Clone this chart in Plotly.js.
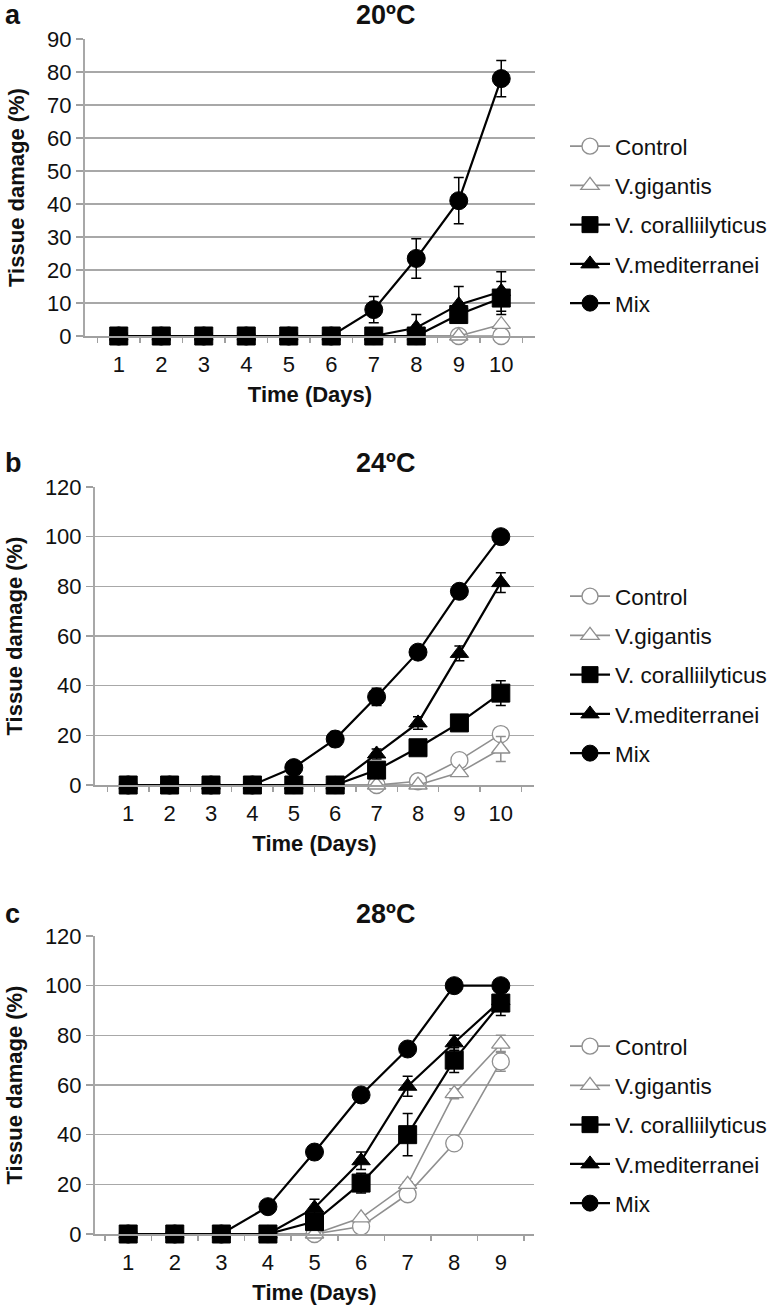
<!DOCTYPE html>
<html>
<head>
<meta charset="utf-8">
<script src="https://cdn.plot.ly/plotly-3.0.1.min.js"></script>
<style>html,body{margin:0;padding:0;background:#fff;}#chart{width:779px;height:1305px;}</style>
</head>
<body>
<div id="chart"></div>
<script>
// ---------- data ----------
const seriesNames = ['Control', 'V.gigantis', 'V. coralliilyticus', 'V.mediterranei', 'Mix'];
const panelTitles = ['20ºC', '24ºC', '28ºC'];
const panelLetters = ['a', 'b', 'c'];
const xTitle = 'Time (Days)';
const yTitle = 'Tissue damage (%)';

const daysA = ['1','2','3','4','5','6','7','8','9','10'];
const daysB = ['1','2','3','4','5','6','7','8','9','10'];
const daysC = ['1','2','3','4','5','6','7','8','9'];

// Panel a: 20ºC
const a_control = [0,0,0,0,0,0,0,0,0,0];
const a_gigantis = [0,0,0,0,0,0,0,0,0,3.5];
const a_coral = [0,0,0,0,0,0,0,0,6.5,11.5];
const a_med = [0,0,0,0,0,0,0,2.5,9.5,13.5];
const a_mix = [0,0,0,0,0,0,8,23.5,41,78];
const a_control_err = [0,0,0,0,0,0,0,0,0,0];
const a_gigantis_err = [0,0,0,0,0,0,0,0,0,0];
const a_coral_err = [0,0,0,0,0,0,0,0,1.5,5];
const a_med_err = [0,0,0,0,0,0,0,4,5.5,6];
const a_mix_err = [0,0,0,0,0,0,4,6,7,5.5];

// Panel b: 24ºC
const b_control = [0,0,0,0,0,0,0,1.5,10,20.5];
const b_gigantis = [0,0,0,0,0,0,0,0,5,14.5];
const b_coral = [0,0,0,0,0,0,6,15,25,37];
const b_med = [0,0,0,0,0,0,12.5,25,53,81.5];
const b_mix = [0,0,0,0,7,18.5,35.5,53.5,78,100];
const b_control_err = [0,0,0,0,0,0,0,0,1,1];
const b_gigantis_err = [0,0,0,0,0,0,0,0,1,5];
const b_coral_err = [0,0,0,0,0,0,1,1,1,5];
const b_med_err = [0,0,0,0,0,0,2,2.5,3,4];
const b_mix_err = [0,0,0,0,0,3,3.5,1,1,0];

// Panel c: 28ºC
const c_control = [0,0,0,0,0,3,16,36.5,69.5];
const c_gigantis = [0,0,0,0,0,6.5,20,56.5,76.5];
const c_coral = [0,0,0,0,5,20.5,40,70,93];
const c_med = [0,0,0,0,10.5,29.5,59.5,77,94];
const c_mix = [0,0,0,11,33,56,74.5,100,100];
const c_control_err = [0,0,0,0,0,0,1,1.5,4];
const c_gigantis_err = [0,0,0,0,0,0,1,2,3.5];
const c_coral_err = [0,0,0,0,3,4,8.5,5,5];
const c_med_err = [0,0,0,0,3.5,3.5,4,3,2];
const c_mix_err = [0,0,0,0,0,0,0,0,0];

// ---------- styles ----------
const GRAY = '#8f8f8f';
const BLACK = '#000000';
const styles = [
  {symbol: 'circle', color: GRAY, fill: '#ffffff', size: 17, lw: 1.6},
  {symbol: 'triangle-up', color: GRAY, fill: '#ffffff', size: 16, lw: 1.6},
  {symbol: 'square', color: BLACK, fill: BLACK, size: 18, lw: 2.2},
  {symbol: 'triangle-up', color: BLACK, fill: BLACK, size: 16, lw: 2.2},
  {symbol: 'circle', color: BLACK, fill: BLACK, size: 18, lw: 2.2}
];

const panels = [
  {x: daysA, ys: [a_control, a_gigantis, a_coral, a_med, a_mix], es: [a_control_err, a_gigantis_err, a_coral_err, a_med_err, a_mix_err]},
  {x: daysB, ys: [b_control, b_gigantis, b_coral, b_med, b_mix], es: [b_control_err, b_gigantis_err, b_coral_err, b_med_err, b_mix_err]},
  {x: daysC, ys: [c_control, c_gigantis, c_coral, c_med, c_mix], es: [c_control_err, c_gigantis_err, c_coral_err, c_med_err, c_mix_err]}
];

// draw order: coral on top, legend order kept by legendrank
const drawOrder = [0, 1, 3, 4, 2];
const traces = [];
panels.forEach((p, pi) => {
  const sfx = pi === 0 ? '' : String(pi + 1);
  drawOrder.forEach(si => {
    const st = styles[si];
    traces.push({
      type: 'scatter', mode: 'lines+markers',
      x: p.x, y: p.ys[si], name: seriesNames[si],
      xaxis: 'x' + sfx, yaxis: 'y' + sfx,
      legend: 'legend' + sfx, legendrank: si + 1,
      legendgroup: 'p' + pi + 's' + si,
      cliponaxis: false,
      line: {color: st.color, width: st.lw},
      marker: {symbol: st.symbol, size: st.size, color: st.fill,
               line: {color: st.color, width: st.fill === '#ffffff' ? 1.3 : 1}},
      error_y: {type: 'data', array: p.es[si], visible: true, color: st.color, thickness: 1.5, width: 5}
    });
  });
});

const W = 779, H = 1305;
const fx = v => v / W;
const fy = v => (H - v) / H;
const FONT = 'Liberation Sans, Arial, sans-serif';

// pixel geometry of each panel: [left, right, top, bottom]
const geo = [[85, 535, 39, 336], [95, 534, 487, 785], [95, 534, 936, 1234]];
const yRanges = [[0, 90], [0, 120], [0, 120]];
const yDtick = [10, 20, 20];
const legendCenters = [225, 675, 1125];
const titleY = [15, 463, 914];

const layout = {
  width: W, height: H,
  margin: {l: 0, r: 0, t: 0, b: 0},
  paper_bgcolor: '#ffffff', plot_bgcolor: '#ffffff',
  showlegend: true,
  font: {family: FONT, color: '#111111'},
  annotations: [],
  shapes: []
};

geo.forEach((g, i) => {
  const sfx = i === 0 ? '' : String(i + 1);
  layout['xaxis' + sfx] = {
    domain: [fx(g[0]), fx(g[1])],
    anchor: 'y' + sfx,
    type: 'category',
    tickson: 'boundaries',
    ticks: 'outside', ticklen: 5, tickwidth: 1.5, tickcolor: '#a0a0a0',
    ticklabelstandoff: 8,
    showgrid: false, zeroline: false,
    showline: true, linecolor: '#a0a0a0', linewidth: 2,
    tickfont: {family: FONT, size: 22, color: '#111111'},
    title: {text: '<b>' + xTitle + '</b>', font: {family: FONT, size: 22, color: '#111111'}, standoff: 10},
    fixedrange: true
  };
  layout['yaxis' + sfx] = {
    domain: [fy(g[3]), fy(g[2])],
    anchor: 'x' + sfx,
    range: yRanges[i], dtick: yDtick[i], tick0: 0,
    ticks: 'outside', ticklen: 7, tickwidth: 1.5, tickcolor: '#a0a0a0',
    showgrid: true, gridcolor: '#a8a8a8', gridwidth: 1.5,
    zeroline: false,
    showline: true, linecolor: '#a8a8a8', linewidth: 2,
    tickfont: {family: FONT, size: 22, color: '#111111'},
    title: {text: '<b>' + yTitle + '</b>', font: {family: FONT, size: 22, color: '#111111'}, standoff: 16},
    fixedrange: true
  };
  layout['legend' + sfx] = {
    x: fx(565), xanchor: 'left',
    y: fy(legendCenters[i]), yanchor: 'middle',
    traceorder: 'grouped', tracegroupgap: 7,
    itemwidth: 40,
    font: {family: FONT, size: 22.5, color: '#111111'},
    bgcolor: 'rgba(0,0,0,0)', borderwidth: 0
  };
  layout.annotations.push({
    xref: 'paper', yref: 'paper', x: fx(385), y: fy(titleY[i]),
    xanchor: 'center', yanchor: 'middle', showarrow: false,
    text: '<b>' + panelTitles[i] + '</b>', font: {family: FONT, size: 27, color: '#111111'}
  });
  layout.annotations.push({
    xref: 'paper', yref: 'paper', x: fx(3), y: fy(titleY[i]),
    xanchor: 'left', yanchor: 'middle', showarrow: false,
    text: '<b>' + panelLetters[i] + '</b>', font: {family: FONT, size: 27, color: '#111111'}
  });
});

Plotly.newPlot('chart', traces, layout, {displayModeBar: false, staticPlot: true});
</script>
</body>
</html>
